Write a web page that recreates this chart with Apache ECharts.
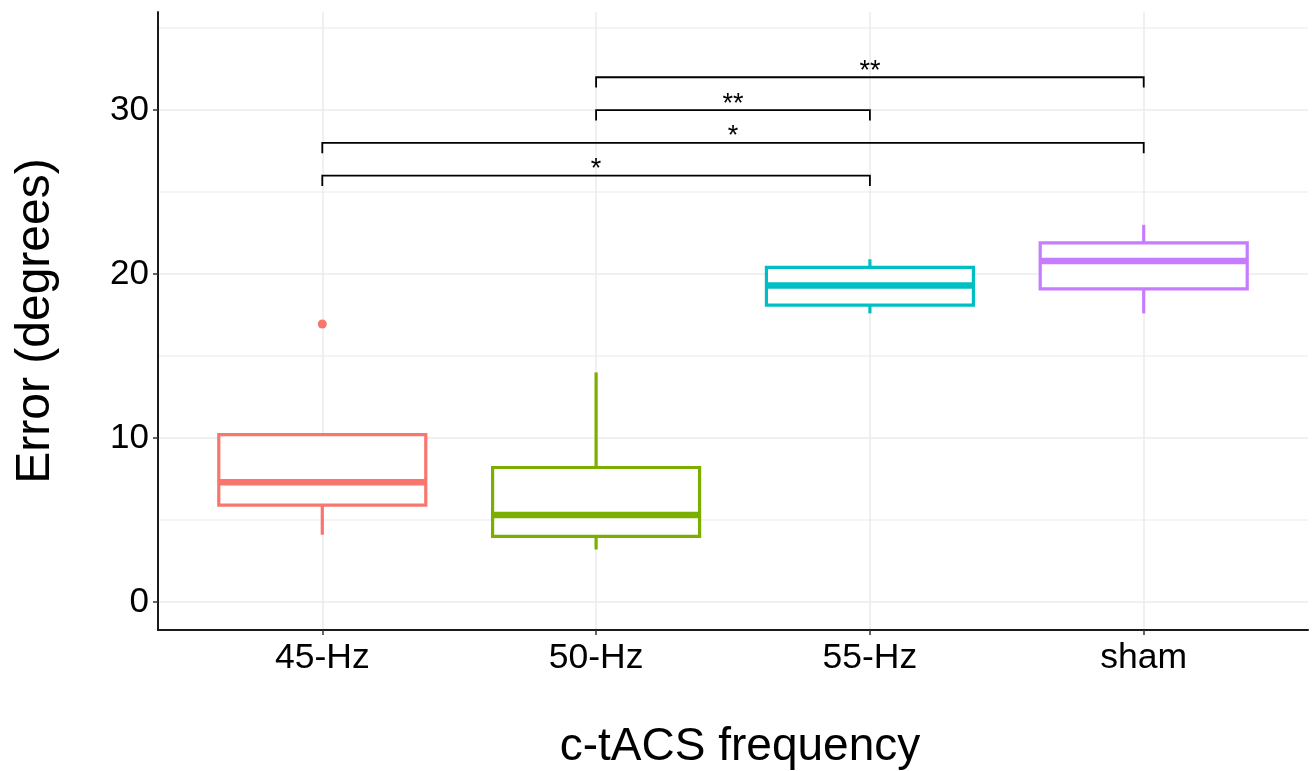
<!DOCTYPE html>
<html>
<head>
<meta charset="utf-8">
<script src="https://cdn.jsdelivr.net/npm/echarts@6/dist/echarts.min.js"></script>
<style>
  html, body { margin: 0; padding: 0; background: #fff; }
  #chart { width: 1312px; height: 771px; }
</style>
</head>
<body>
<div id="chart"></div>
<script>
// box statistics
const categories = ['45-Hz', '50-Hz', '55-Hz', 'sham']
const colors = ['#F8766D', '#7CAE00', '#00BFC4', '#C77CFF']
const whiskerLow = [4.1, 3.2, 17.6, 17.6]
const q1 = [5.9, 4.0, 18.1, 19.1]
const median = [7.3, 5.3, 19.3, 20.8]
const q3 = [10.2, 8.2, 20.4, 21.9]
const whiskerHigh = [10.2, 14.0, 20.9, 23.0]
// outliers as [category index, value]
const outliers = [[0, 16.95]]

// significance brackets
const bracketFrom = [1, 1, 0, 0]
const bracketTo = [3, 2, 3, 2]
const bracketY = [32, 30, 28, 26]
const bracketLabel = ['**', '**', '*', '*']

const yTicks = [0, 10, 20, 30]
const yMinorTicks = [5, 15, 25, 35]
const xTicks = [0, 1, 2, 3]

const FONT = "'Liberation Sans', Arial, Helvetica, sans-serif"
const chart = echarts.init(document.getElementById('chart'))

const boxData = categories.map((c, i) => [i, whiskerLow[i], q1[i], median[i], q3[i], whiskerHigh[i]])
const bracketData = bracketY.map((y, k) => [bracketFrom[k], bracketTo[k], y, k])

const option = {
  animation: false,
  backgroundColor: '#fff',
  grid: { left: 158, right: 4, top: 12, bottom: 141, outerBoundsMode: 'none', containLabel: false },
  xAxis: {
    type: 'value',
    min: -0.6,
    max: 3.6,
    name: 'c-tACS frequency',
    nameLocation: 'middle',
    nameGap: 94,
    nameTextStyle: { fontSize: 46, color: '#000', fontFamily: FONT, padding: [0, 0, 0, 14] },
    axisLine: { show: true, onZero: false, lineStyle: { color: '#1a1a1a', width: 2 } },
    axisTick: { show: true, customValues: xTicks, length: 5, lineStyle: { color: '#333', width: 1.5 } },
    axisLabel: {
      customValues: xTicks,
      formatter: (v) => categories[Math.round(v)],
      fontSize: 35.5,
      color: '#000',
      fontFamily: FONT,
      margin: 10
    },
    splitLine: { show: true, lineStyle: { color: '#ebebeb', width: 1.5 } }
  },
  yAxis: [
    {
      type: 'value',
      min: -1.71,
      max: 35.98,
      name: 'Error (degrees)',
      nameLocation: 'middle',
      nameGap: 98,
      nameTextStyle: { fontSize: 48, color: '#000', fontFamily: FONT },
      axisLine: { show: true, onZero: false, lineStyle: { color: '#1a1a1a', width: 2 } },
      axisTick: { show: true, customValues: yTicks, length: 5, lineStyle: { color: '#333', width: 1.5 } },
      axisLabel: { customValues: yTicks, fontSize: 35, color: '#000', fontFamily: FONT, margin: 9 },
      splitLine: { show: true, lineStyle: { color: '#ebebeb', width: 1.5 } }
    },
    {
      // minor grid lines only
      type: 'value',
      min: -1.71,
      max: 35.98,
      position: 'left',
      axisLine: { show: false },
      axisTick: { show: false, customValues: yMinorTicks },
      axisLabel: { show: false, customValues: yMinorTicks },
      splitLine: { show: true, lineStyle: { color: '#f0f0f0', width: 1.5 } }
    }
  ],
  series: [
    {
      type: 'custom',
      name: 'box',
      data: boxData,
      encode: { x: 0, y: [1, 2, 3, 4, 5] },
      renderItem: (params, api) => {
        const i = api.value(0)
        const half = 0.378
        const color = colors[i]
        const cx = api.coord([i, 0])[0]
        const left = api.coord([i - half, 0])[0]
        const right = api.coord([i + half, 0])[0]
        const yLow = api.coord([i, api.value(1)])[1]
        const yQ1 = api.coord([i, api.value(2)])[1]
        const yMed = api.coord([i, api.value(3)])[1]
        const yQ3 = api.coord([i, api.value(4)])[1]
        const yHigh = api.coord([i, api.value(5)])[1]
        return {
          type: 'group',
          children: [
            { type: 'line', shape: { x1: cx, y1: yHigh, x2: cx, y2: yQ3 }, style: { stroke: color, lineWidth: 3.2 } },
            { type: 'line', shape: { x1: cx, y1: yQ1, x2: cx, y2: yLow }, style: { stroke: color, lineWidth: 3.2 } },
            {
              type: 'rect',
              shape: { x: left, y: yQ3, width: right - left, height: yQ1 - yQ3 },
              style: { fill: '#fff', stroke: color, lineWidth: 3.2 }
            },
            { type: 'line', shape: { x1: left, y1: yMed, x2: right, y2: yMed }, style: { stroke: color, lineWidth: 6.5 } }
          ]
        }
      }
    },
    {
      type: 'scatter',
      name: 'outliers',
      data: outliers,
      symbolSize: 9,
      itemStyle: { opacity: 1, color: (p) => colors[p.data[0]] }
    },
    {
      type: 'custom',
      name: 'brackets',
      data: bracketData,
      encode: { x: [0, 1], y: 2 },
      renderItem: (params, api) => {
        const a = api.value(0)
        const b = api.value(1)
        const y = api.value(2)
        const k = api.value(3)
        const tip = 0.63
        const p1 = api.coord([a, y - tip])
        const p2 = api.coord([a, y])
        const p3 = api.coord([b, y])
        const p4 = api.coord([b, y - tip])
        const mid = api.coord([(a + b) / 2, y])
        return {
          type: 'group',
          children: [
            {
              type: 'polyline',
              shape: { points: [p1, p2, p3, p4] },
              style: { stroke: '#000', lineWidth: 1.8, fill: null }
            },
            {
              type: 'text',
              style: {
                text: bracketLabel[k],
                x: mid[0],
                y: mid[1] - 6,
                align: 'center',
                verticalAlign: 'middle',
                fontSize: 27,
                fontFamily: FONT,
                fill: '#000'
              }
            }
          ]
        }
      }
    }
  ]
}

chart.setOption(option)
window.addEventListener('resize', () => chart.resize())
</script>
</body>
</html>
